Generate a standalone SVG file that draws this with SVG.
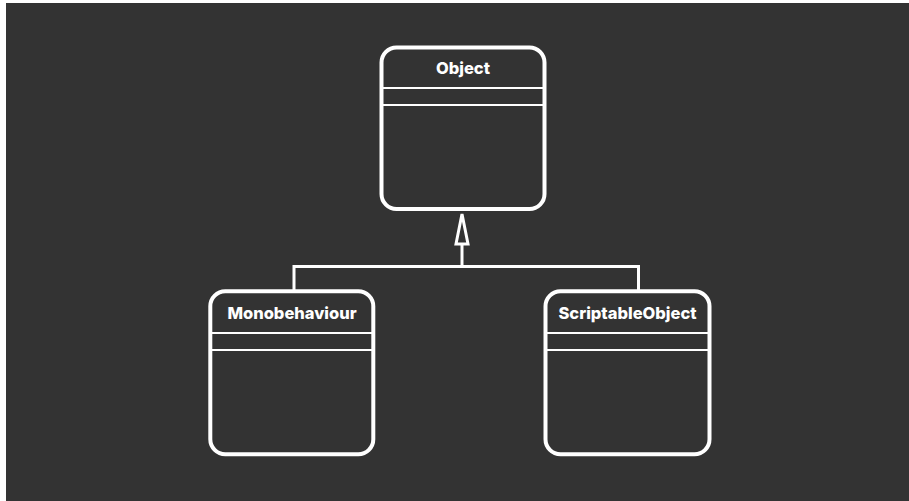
<svg xmlns="http://www.w3.org/2000/svg" width="909" height="501" viewBox="0 0 909 501">
<style>
.box{fill:none;stroke:#ffffff;stroke-width:4}
.sep{stroke:#ffffff;stroke-width:2}
.title{fill:#ffffff;font-family:Inter,"Liberation Sans",sans-serif;font-weight:800;font-size:16.5px;text-anchor:middle}
.conn{fill:none;stroke:#ffffff;stroke-width:3}
</style>
<rect x="0" y="0" width="909" height="501" fill="#ffffff"/>
<rect x="6" y="3" width="903" height="498" fill="#333333"/>
<g id="connectors">
<polyline class="conn" points="294,290 294,266.5 638.5,266.5 638.5,290"/>
<line class="conn" x1="462" y1="266.5" x2="462" y2="244"/>
<polygon class="conn" points="462,214 456,244 468,244" fill="#333333"/>
</g>
<g id="object">
<rect class="box" x="381.5" y="47.5" width="163" height="161.5" rx="15"/>
<line class="sep" x1="381.5" y1="88" x2="544.5" y2="88"/>
<line class="sep" x1="381.5" y1="105" x2="544.5" y2="105"/>
<text class="title" x="463" y="73.5">Object</text>
</g>
<g id="monobehaviour">
<rect class="box" x="210.3" y="291.3" width="163" height="163" rx="15"/>
<line class="sep" x1="210.3" y1="333" x2="373.3" y2="333"/>
<line class="sep" x1="210.3" y1="350" x2="373.3" y2="350"/>
<text class="title" x="292" y="318.5">Monobehaviour</text>
</g>
<g id="scriptableobject">
<rect class="box" x="545.5" y="291.3" width="164" height="163" rx="15"/>
<line class="sep" x1="545.5" y1="333" x2="709.5" y2="333"/>
<line class="sep" x1="545.5" y1="350" x2="709.5" y2="350"/>
<text class="title" x="627.5" y="318.5">ScriptableObject</text>
</g>
</svg>
